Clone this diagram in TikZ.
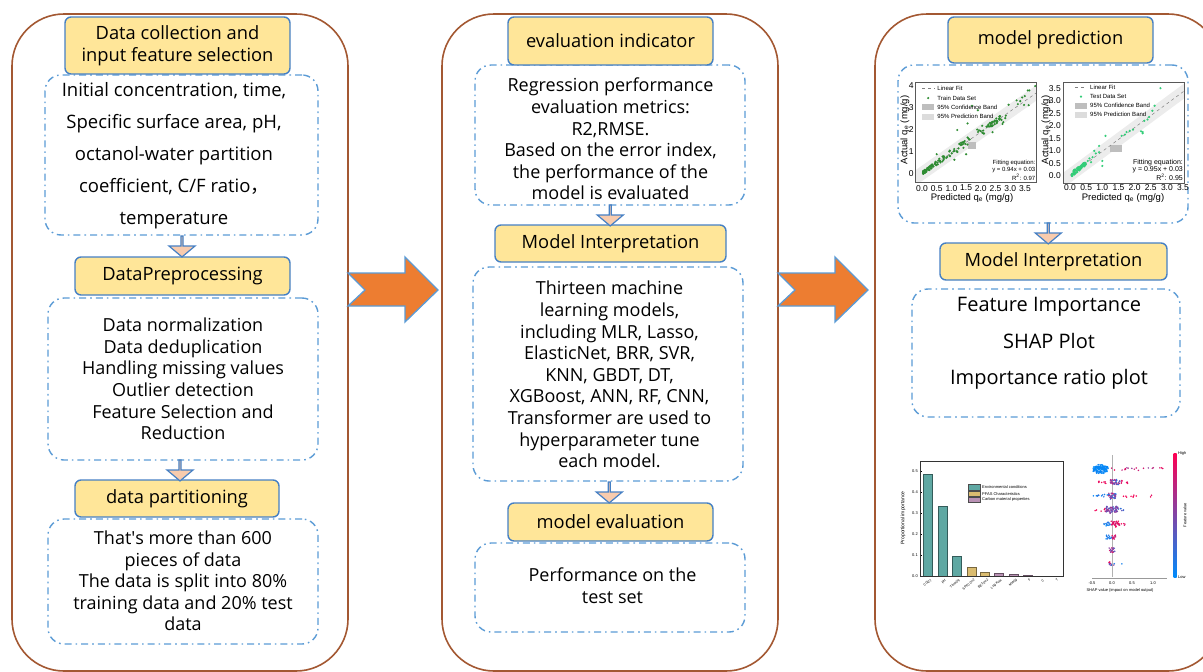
\documentclass[tikz,border=0pt]{standalone}
\usepackage{fontspec}
\setmainfont{Open Sans}
\newfontfamily\plotfont{Liberation Sans}
\newfontfamily\cjkfont{Noto Sans CJK SC}
\usetikzlibrary{shapes.arrows,calc}

\definecolor{panelc}{RGB}{163,88,50}
\definecolor{headc}{RGB}{70,128,196}
\definecolor{headfill}{RGB}{255,230,153}
\definecolor{dashc}{RGB}{91,155,213}
\definecolor{arrfill}{RGB}{248,203,173}
\definecolor{orangec}{RGB}{237,125,49}
\definecolor{trgreen}{RGB}{46,140,50}
\definecolor{tsgreen}{RGB}{50,205,120}
\definecolor{bandc}{RGB}{236,236,236}
\definecolor{confc}{RGB}{190,190,190}
\definecolor{tealc}{RGB}{95,168,163}
\definecolor{goldc}{RGB}{218,188,112}
\definecolor{purpc}{RGB}{185,145,180}
\definecolor{shpink}{RGB}{255,0,82}
\definecolor{shblue}{RGB}{0,139,251}

% scatter of SHAP dots along one row: y, xmin, xmax, count, pink share, spread, jitter
\newcommand\shapdots[7]{%
  \foreach \k in {1,...,#4}{%
    \pgfmathsetmacro\sx{#2+(#3-#2)*rnd}%
    \pgfmathsetmacro\sy{#1+#7*rand}%
    \pgfmathsetmacro\sm{int(max(0,min(100,#5+#6*rand)))}%
    \fill[shpink!\sm!shblue] (\sx,\sy) circle[radius=0.85pt];
  }}

\begin{document}
\begin{tikzpicture}[x=1pt,y=-1pt,
  panel/.style={draw=panelc, line width=1.6pt, rounded corners=52pt, inner sep=0pt},
  hbox/.style={draw=headc, fill=headfill, line width=1.4pt, rounded corners=6pt,
    align=center, inner sep=0pt, font=\fontsize{18.3pt}{22pt}\selectfont},
  dbox/.style={draw=dashc, line width=1.4pt, rounded corners=16pt,
    dash pattern=on 7pt off 4pt on 1.6pt off 4pt, inner sep=0pt},
  txt/.style={align=center, inner sep=0pt, font=\fontsize{18pt}{21.6pt}\selectfont},
  sarrow/.style={single arrow, draw=headc, fill=arrfill, line width=1.2pt,
    shape border rotate=270, minimum height=21pt, minimum width=26pt,
    single arrow head extend=7pt, single arrow tip angle=100, inner sep=0pt},
  bigarrow/.style={draw=dashc, fill=orangec, line width=1.3pt, line join=miter},
  tick/.style={font=\plotfont\fontsize{8.5pt}{9pt}\selectfont, inner sep=0pt},
  leg/.style={font=\plotfont\fontsize{6pt}{7pt}\selectfont, inner sep=0pt, anchor=west},
  axl/.style={font=\plotfont\fontsize{9.5pt}{10pt}\selectfont, inner sep=0pt},
  tiny/.style={font=\plotfont\fontsize{4pt}{4.5pt}\selectfont, inner sep=0pt},
]
\useasboundingbox (0,0) rectangle (1203,672);
\clip (0,0) rectangle (1203,672);
\pgfmathsetseed{2024}

% ---------- three stage panels ----------
\node[panel, minimum width=336pt, minimum height=657pt] (p1) at (180,342.5) {};
\node[panel, minimum width=336pt, minimum height=657pt] (p2) at (610,342.5) {};
\node[panel, minimum width=345pt, minimum height=657pt] (p3) at (1047.5,342.5) {};

% ---------- arrows between panels ----------
\draw[bigarrow] (348,273) -- (405,273) -- (405,257) -- (438,290) -- (405,322)
  -- (405,306) -- (348,306) -- (365,290) -- cycle;
\draw[bigarrow] (778,273) -- (835,273) -- (835,257) -- (868,290) -- (835,322)
  -- (835,306) -- (778,306) -- (795,290) -- cycle;

% ---------- left panel ----------
\node[dbox, minimum width=273pt, minimum height=160pt] (b1) at (181.5,155) {};
\node[dbox, minimum width=270pt, minimum height=162pt] (b2) at (183,379) {};
\node[dbox, minimum width=270pt, minimum height=125pt] (b3) at (183,581.5) {};

\node[txt, font=\fontsize{18.5pt}{32pt}\selectfont] (t1) at (174,156)
  {Initial concentration, time,\\Specific surface area, pH,\\octanol-water partition\\
   coefficient, C/F ratio{\cjkfont ，}\\temperature};
\node[txt] (t2) at (183,379) {Data normalization\\Data deduplication\\Handling missing values\\
   Outlier detection\\Feature Selection and\\Reduction};
\node[txt] (t3) at (183,581) {That\textquotesingle s more than 600\\pieces of data\\
   The data is split into 80\%\\training data and 20\% test\\data};

\node[hbox, minimum width=225pt, minimum height=57pt] (h1) at (177.5,45.5)
  {Data collection and\\input feature selection};
\node[hbox, minimum width=215pt, minimum height=38pt] (h2) at (182.5,276) {DataPreprocessing};
\node[hbox, minimum width=204pt, minimum height=37pt] (h3) at (177,498.5) {data partitioning};

\node[sarrow] (a1) at ($(b1.south)!0.5!(h2.north)$) {};
\node[sarrow] (a2) at ($(b2.south)!0.5!(h3.north)$) {};

% ---------- middle panel ----------
\node[dbox, minimum width=270pt, minimum height=140pt] (b4) at (610,135) {};
\node[dbox, minimum width=270pt, minimum height=214pt] (b5) at (608,374) {};
\node[dbox, minimum width=270pt, minimum height=89pt] (b6) at (610,587.5) {};

\node[txt] (t4) at (610.5,139) {Regression performance\\evaluation metrics:\\R2,RMSE.\\
   Based on the error index,\\the performance of the\\model is evaluated};
\node[txt] (t5) at (609.5,374.5) {Thirteen machine\\learning models,\\including MLR, Lasso,\\
   ElasticNet, BRR, SVR,\\KNN, GBDT, DT,\\XGBoost, ANN, RF, CNN,\\
   Transformer are used to\\hyperparameter tune\\each model.};
\node[txt] (t6) at (612.5,585.5) {Performance on the\\test set};

\node[hbox, minimum width=205pt, minimum height=48pt] (h4) at (610.5,41) {evaluation indicator};
\node[hbox, minimum width=231pt, minimum height=37pt] (h5) at (610.5,243.5) {Model Interpretation};
\node[hbox, minimum width=205pt, minimum height=38pt] (h6) at (610.5,522) {model evaluation};

\node[sarrow] (a3) at ($(b4.south)!0.5!(h5.north)$) {};
\node[sarrow] (a4) at ($(b5.south)!0.5!(h6.north)$) {};

% ---------- right panel ----------
\node[dbox, minimum width=290pt, minimum height=158pt] (b7) at (1043,144) {};
\node[dbox, minimum width=268pt, minimum height=128pt] (b8) at (1046,353) {};
\node[txt, font=\fontsize{20pt}{36.5pt}\selectfont] (t8) at (1049,343.5)
  {Feature Importance\\SHAP Plot\\Importance ratio plot};

\node[hbox, minimum width=205pt, minimum height=46pt] (h7) at (1050.5,40) {model prediction};
\node[hbox, minimum width=227pt, minimum height=37pt] (h8) at (1053.5,261.5) {Model Interpretation};
\node[sarrow] (a5) at ($(b7.south)!0.5!(h8.north)$) {};

% ----- training-set parity plot -----
\begin{scope}[shift={(922,174)}, x=29.4pt, y=22pt]
  \begin{scope}
    \clip (-0.238,-0.364) rectangle (3.878,4.18);
    \fill[bandc] (-0.3,-0.602) -- (4,3.44) -- (4,4.14) -- (-0.3,0.098) -- cycle;
    \fill[confc] (1.55,1.15) rectangle (1.85,1.45);
    \draw[gray, dashed, line width=0.5pt] (0,0.03) -- (3.9,3.696);
    \foreach \i in {1,...,150}{
      \pgfmathsetmacro\u{rnd}
      \pgfmathsetmacro\px{0.04+3.6*\u*\u*\u}
      \pgfmathsetmacro\py{max(-0.05,0.94*\px+0.03+(0.06+0.1*\px)*rand)}
      \fill[trgreen] (\px,\py) circle[radius=1.2pt];
    }
    \foreach \i in {1,...,25}{
      \pgfmathsetmacro\px{2.2+0.5*rnd}
      \pgfmathsetmacro\py{0.94*\px+0.03+0.12*rand}
      \fill[trgreen] (\px,\py) circle[radius=1.2pt];
    }
    \foreach \px/\py in {3.85/4.0, 3.6/3.8, 3.65/3.8, 1.7/3.1, 1.2/2.0, 1.55/2.3, 1.9/2.9,
        1.1/0.65, 1.5/0.9, 2.4/1.9, 0.5/0.9}
      \fill[trgreen] (\px,\py) circle[radius=1.2pt];
  \end{scope}
  % legend
  \draw[gray, dashed, line width=0.5pt] (0,3.9) -- (0.42,3.9);
  \node[leg] (l1a) at (0.52,3.9) {Linear Fit};
  \fill[trgreen] (0.21,3.45) circle[radius=1.2pt];
  \node[leg] (l1b) at (0.52,3.45) {Train Data Set};
  \fill[confc] (0,2.9) rectangle (0.42,3.2);
  \node[leg] (l1c) at (0.52,3.05) {95\% Confidence Band};
  \fill[bandc!85!gray] (0,2.45) rectangle (0.42,2.75);
  \node[leg] (l1d) at (0.52,2.6) {95\% Prediction Band};
  \node[leg, anchor=east] (f1a) at (3.86,0.5) {Fitting equation:};
  \node[leg, anchor=east] (f1b) at (3.86,0.16) {y = 0.94x + 0.03};
  \node[leg, anchor=east] (f1c) at (3.86,-0.15) {R\textsuperscript{2}: 0.97};
  % ticks
  \foreach \v [count=\n] in {0,1,2,3,4}
    \node[tick, anchor=east] (y1\n) at (-0.28,\v) {\v};
  \foreach \v [count=\n] in {0.0,0.5,1.0,1.5,2.0,2.5,3.0,3.5}
    \node[tick] (x1\n) at (\v,-0.64) {\v};
\end{scope}
\draw[gray!70!black, line width=0.6pt] (915,82) rectangle (1036,182);
\node[axl] (xl1) at (972,198) {Predicted q\textsubscript{e} (mg/g)};
\node[axl, rotate=90] (yl1) at (905,130) {Actual q\textsubscript{e} (mg/g)};

% ----- test-set parity plot -----
\begin{scope}[shift={(1070,176)}, x=32.3pt, y=25.1pt]
  \begin{scope}
    \clip (-0.217,-0.279) rectangle (3.53,3.745);
    \fill[bandc] (-0.3,-0.555) -- (3.7,3.245) -- (3.7,3.845) -- (-0.3,0.045) -- cycle;
    \fill[confc] (1.25,0.95) rectangle (1.6,1.25);
    \draw[gray, dashed, line width=0.5pt] (0,0.03) -- (3.6,3.45);
    \foreach \i in {1,...,70}{
      \pgfmathsetmacro\u{rnd}
      \pgfmathsetmacro\px{0.05+0.45*\u}
      \pgfmathsetmacro\py{max(-0.05,0.95*\px+0.03+0.09*rand)}
      \fill[tsgreen] (\px,\py) circle[radius=1.2pt];
    }
    \foreach \px/\py in {2.8/3.5, 2.62/2.8, 2.55/2.6, 2.45/2.35, 2.3/2.2, 2.4/2.25,
        2.25/1.75, 2.25/1.7, 2.2/1.78, 1.95/1.85, 1.75/1.75, 1.85/1.8, 1.6/1.6, 1.7/1.65,
        1.1/1.6, 1.0/0.6, 1.0/0.4, 0.9/1.2, 0.9/0.95, 0.8/0.9, 0.75/1.0, 0.6/0.7,
        0.7/0.75, 0.55/0.6, 0.65/0.55}
      \fill[tsgreen] (\px,\py) circle[radius=1.2pt];
  \end{scope}
  \draw[gray, dashed, line width=0.5pt] (0.15,3.52) -- (0.52,3.52);
  \node[leg] (l2a) at (0.62,3.52) {Linear Fit};
  \fill[tsgreen] (0.34,3.16) circle[radius=1.2pt];
  \node[leg] (l2b) at (0.62,3.16) {Test Data Set};
  \fill[confc] (0.15,2.68) rectangle (0.52,2.92);
  \node[leg] (l2c) at (0.62,2.8) {95\% Confidence Band};
  \fill[bandc!85!gray] (0.15,2.32) rectangle (0.52,2.56);
  \node[leg] (l2d) at (0.62,2.44) {95\% Prediction Band};
  \node[leg, anchor=east, font=\plotfont\fontsize{7pt}{8pt}\selectfont] (f2a) at (3.5,0.52) {Fitting equation:};
  \node[leg, anchor=east, font=\plotfont\fontsize{7pt}{8pt}\selectfont] (f2b) at (3.5,0.24) {y = 0.95x + 0.03};
  \node[leg, anchor=east, font=\plotfont\fontsize{7pt}{8pt}\selectfont] (f2c) at (3.5,-0.05) {R\textsuperscript{2}: 0.95};
  \foreach \v [count=\n] in {0.0,0.5,1.0,1.5,2.0,2.5,3.0,3.5}
    \node[tick, anchor=east] (y2\n) at (-0.28,\v) {\v};
  \foreach \v [count=\n] in {0.0,0.5,1.0,1.5,2.0,2.5,3.0,3.5}
    \node[tick] (x2\n) at (\v,-0.48) {\v};
\end{scope}
\draw[gray!70!black, line width=0.6pt] (1063,82) rectangle (1184,183);
\node[axl] (xl2) at (1123,198) {Predicted q\textsubscript{e} (mg/g)};
\node[axl, rotate=90] (yl2) at (1046,130) {Actual q\textsubscript{e} (mg/g)};

% ----- feature importance bar chart -----
\begin{scope}[shift={(920,576)}, y=210pt]
  \foreach \cx/\h/\c in {8/0.485/tealc, 22.5/0.33/tealc, 36.5/0.093/tealc,
      51.5/0.043/goldc, 65/0.02/goldc, 78.5/0.015/purpc, 93.5/0.01/purpc, 107.5/0.004/purpc}
    \filldraw[fill=\c, draw=\c!55!black, line width=0.5pt] (\cx-4.7,0) rectangle (\cx+4.7,\h);
  \foreach \v [count=\n] in {0.0,0.1,0.2,0.3,0.4,0.5}{
    \draw[line width=0.4pt] (0,\v) -- (2,\v);
    \node[tiny, anchor=east] (yb\n) at (-2,\v) {\v};
  }
  \foreach \cx/\lab [count=\n] in {8/C0(C), 22.5/pH, 36.5/Time(h), 51.5/SPFC(m2/g),
      65/BET(m2/g), 78.5/Log Kow, 93.5/MW(g/mol), 107.5/F, 121/C, 135/T}
    \node[tiny, anchor=north east, rotate=40, font=\plotfont\fontsize{3.4pt}{4pt}\selectfont]
      (xb\n) at (\cx+2,-0.012) {\lab};
  \filldraw[fill=tealc, draw=black!70, line width=0.4pt] (48,0.435) rectangle (60,0.41);
  \node[tiny, anchor=west] (lb1) at (62,0.4225) {Environmental conditions};
  \filldraw[fill=goldc, draw=black!70, line width=0.4pt] (48,0.405) rectangle (60,0.38);
  \node[tiny, anchor=west] (lb2) at (62,0.3925) {PFAS Characteristics};
  \filldraw[fill=purpc, draw=black!70, line width=0.4pt] (48,0.375) rectangle (60,0.35);
  \node[tiny, anchor=west] (lb3) at (62,0.3625) {Carbon material properties};
\end{scope}
\draw[black!80, line width=0.6pt] (920,461) rectangle (1063,576);
\node[tiny, rotate=90, font=\plotfont\fontsize{5pt}{5pt}\selectfont] (ylb) at (903,518) {Proportional importance};

% ----- SHAP summary plot -----
\draw[gray!60, line width=0.5pt] (1112,455) -- (1112,577);
\draw[gray!80, line width=0.5pt] (1092,578) -- (1167,578);
\foreach \v/\xx [count=\n] in {-0.5/1092, 0.0/1112, 0.5/1132, 1.0/1153}
  \node[tiny] (xs\n) at (\xx,583) {\v};
\node[tiny] (xls) at (1120,590) {SHAP value (impact on model output)};
\shapdots{469}{1093}{1108}{110}{3}{5}{3}
\shapdots{469}{1096}{1104}{40}{3}{5}{4.5}
\shapdots{469}{1110}{1140}{12}{70}{30}{1.5}
\shapdots{469}{1140}{1166}{7}{70}{30}{1.5}
\shapdots{482}{1098}{1107}{8}{95}{5}{1.5}
\shapdots{482}{1110}{1120}{40}{45}{40}{2.5}
\shapdots{482}{1120}{1128}{8}{90}{10}{1.5}
\shapdots{496}{1093}{1110}{14}{10}{10}{1.5}
\shapdots{496}{1108}{1116}{35}{40}{40}{3}
\shapdots{496}{1122}{1155}{10}{95}{5}{1.5}
\shapdots{510}{1095}{1107}{10}{95}{5}{1.5}
\shapdots{510}{1106}{1118}{55}{45}{20}{3.5}
\shapdots{510}{1118}{1125}{6}{20}{20}{1.5}
\shapdots{524}{1104}{1111}{14}{10}{10}{2}
\shapdots{524}{1111}{1120}{30}{90}{10}{3}
\shapdots{524}{1120}{1125}{4}{90}{10}{1.5}
\shapdots{537}{1106}{1112}{14}{15}{15}{2}
\shapdots{537}{1112}{1116}{12}{85}{15}{2}
\shapdots{550}{1109}{1115}{18}{60}{30}{2.5}
\shapdots{564}{1109}{1115}{12}{50}{50}{2}
\shapdots{564}{1121}{1123}{1}{10}{5}{0.5}
\shade[top color=shpink, bottom color=shblue] (1173.5,453) rectangle (1176.5,577);
\node[tiny, anchor=west] (hi) at (1178,453) {High};
\node[tiny, anchor=west] (lo) at (1178,577) {Low};
\node[tiny, rotate=90] (fv) at (1185,515) {Feature value};
\end{tikzpicture}
\end{document}
